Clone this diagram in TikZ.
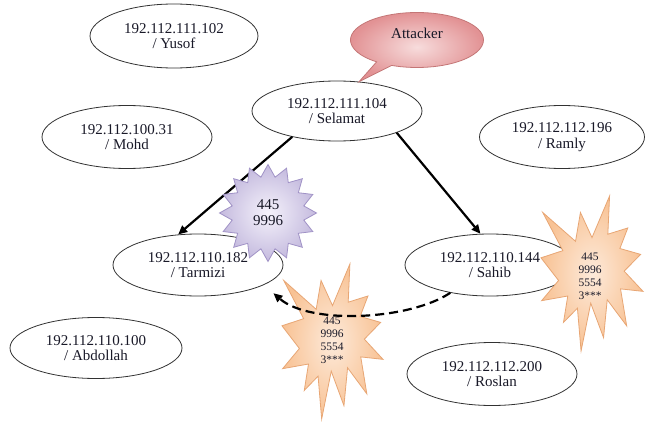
\documentclass[tikz,border=0pt]{standalone}
\usepackage{fontspec}
\setmainfont{Liberation Serif}
\usetikzlibrary{shapes.geometric,shapes.callouts,arrows.meta}
\definecolor{hostline}{RGB}{50,50,50}
\definecolor{txt}{RGB}{25,25,40}
\definecolor{pinkin}{RGB}{247,220,220}
\definecolor{pinkout}{RGB}{226,146,148}
\definecolor{pinkline}{RGB}{196,118,118}
\definecolor{lavin}{RGB}{245,242,251}
\definecolor{lavout}{RGB}{196,186,222}
\definecolor{lavline}{RGB}{160,146,198}
\definecolor{peachin}{RGB}{253,234,218}
\definecolor{peachout}{RGB}{248,194,148}
\definecolor{peachline}{RGB}{232,166,116}
\newcommand\hostfont{\fontsize{15}{15.8}\selectfont}
\newcommand\burstfont{\fontsize{11.5}{13}\selectfont}
\tikzset{
  host/.style={ellipse, draw=hostline, line width=0.8pt, fill=white,
    minimum width=170pt, minimum height=62pt, inner sep=0pt, align=center,
    font=\hostfont, text=txt},
  attack/.style={line width=2.2pt, -{Triangle[length=9pt,width=8pt]}},
  spread/.style={attack, dash pattern=on 9pt off 5pt},
  bubble/.style={ellipse callout, draw=pinkline, line width=0.8pt,
    inner color=pinkin, outer color=pinkout, minimum width=133pt,
    minimum height=55pt, inner sep=0pt, font=\hostfont, text=txt, text depth=14pt},
  portstar/.style={star, star points=16, star point ratio=1.33, minimum size=97pt,
    inner sep=0pt, draw=lavline, line width=0.8pt, inner color=lavin,
    outer color=lavout, align=center, font=\hostfont, text=txt},
  burst/.style={draw=peachline, line width=0.8pt, inner color=peachin, outer color=peachout},
  bursttext/.style={align=center, font=\burstfont, text=txt, inner sep=0pt},
  explosion/.pic={
    \path[burst] (0.5,0.2685) -- (0.6723,0) -- (0.6553,0.2465) -- (0.8509,0.2063)
      -- (0.7732,0.3387) -- (0.9767,0.3767) -- (0.8151,0.4850) -- (1.0,0.6153)
      -- (0.7795,0.5992) -- (0.8400,0.8377) -- (0.6491,0.6693) -- (0.6133,0.9138)
      -- (0.4876,0.6914) -- (0.3928,1.0) -- (0.3572,0.7235) -- (0.2205,0.8156)
      -- (0.2624,0.6452) -- (0.0063,0.6753) -- (0.1723,0.5451) -- (0,0.3988)
      -- (0.2142,0.3526) -- (0.0171,0.1063) -- (0.3385,0.2926) -- (0.3867,0.1063)
      -- cycle;
  }
}
\begin{document}
\begin{tikzpicture}[x=1pt,y=-1pt]
\useasboundingbox (0,0) rectangle (646,428);
\fill[white] (0,0) rectangle (646,428);
% hosts
\node[host, minimum width=168pt, minimum height=64pt] (yusof) at (174,36) {192.112.111.102\\/ Yusof};
\node[host, minimum height=63pt] (mohd) at (127,137) {192.112.100.31\\/ Mohd};
\node[host, minimum height=60pt] (selamat) at (337,111) {192.112.111.104\\/ Selamat};
\node[host, minimum width=165pt, minimum height=63pt] (ramly) at (562,137) {192.112.112.196\\/ Ramly};
\node[host] (tarmizi) at (198,265) {192.112.110.182\\/ Tarmizi};
\node[host] (sahib) at (490,265) {192.112.110.144\\/ Sahib};
\node[host, minimum width=172pt, minimum height=61pt] (abdollah) at (96,348) {192.112.110.100\\/ Abdollah};
\node[host, minimum height=63pt] (roslan) at (492,374) {192.112.112.200\\/ Roslan};
% attacks
\draw[attack] (selamat.210) -- (tarmizi.123);
\draw[attack] (selamat.340) -- (sahib.107);
% port bursts
\node[portstar] (scan1) at (268,213) {445\\9996};
\begin{scope}[shift={(541,196)}, x=102pt, y=-155pt]
  \pic {explosion};
\end{scope}
\begin{scope}[shift={(282,264)}, x=101pt, y=-155pt]
  \pic {explosion};
\end{scope}
\node[bursttext] (scan2) at (590,276) {445\\9996\\5554\\3***};
\node[bursttext] (scan3) at (332,340) {445\\9996\\5554\\3***};
% propagation
\draw[spread] (sahib.215) .. controls +(-40,27) and +(37,32) .. ([xshift=15pt,yshift=-6pt]tarmizi.south east);
% attacker label
\node[bubble, callout absolute pointer={(selamat.53)}] (attacker) at (417,40) {Attacker};
\end{tikzpicture}
\end{document}
